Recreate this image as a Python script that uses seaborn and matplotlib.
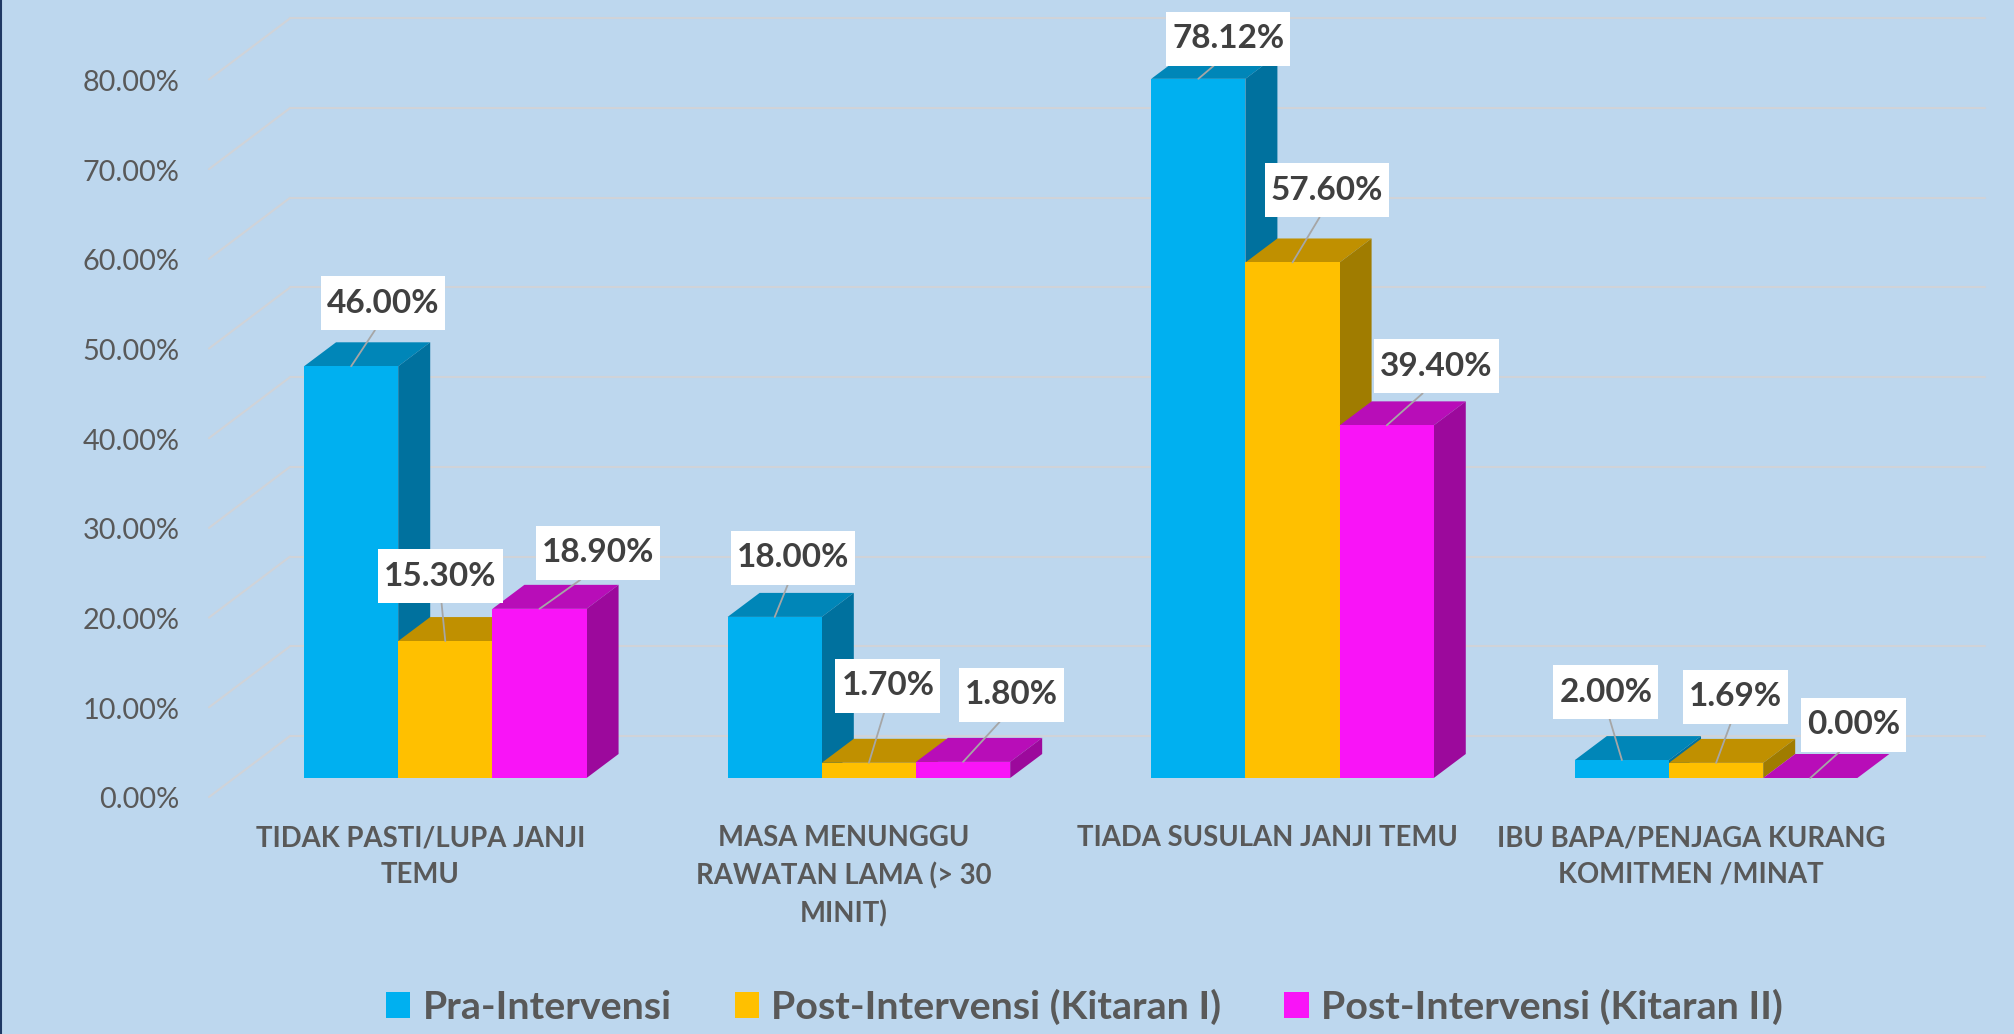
import seaborn as sns
import matplotlib
matplotlib.use('Agg')
import matplotlib.pyplot as plt
import pandas as pd
from matplotlib.lines import Line2D
from matplotlib.patches import Polygon
from matplotlib.path import Path
from matplotlib.transforms import Affine2D

categories = ['TIDAK PASTI/LUPA JANJI\nTEMU',
              'MASA MENUNGGU\nRAWATAN LAMA (> 30\nMINIT)',
              'TIADA SUSULAN JANJI TEMU',
              'IBU BAPA/PENJAGA KURANG\nKOMITMEN /MINAT']
pra = [46.00, 18.00, 78.12, 2.00]
post1 = [15.30, 1.70, 57.60, 1.69]
post2 = [18.90, 1.80, 39.40, 0.00]
series_names = ['Pra-Intervensi', 'Post-Intervensi (Kitaran I)', 'Post-Intervensi (Kitaran II)']
y_ticks = [0, 10, 20, 30, 40, 50, 60, 70, 80]

# where each label box sits, relative to the top of its bar (pixels, one row per series)
label_offsets = [[(32, 63), (18, 59), (30, 40), (-16, 68)],
                 [(-5, 65), (19, 77), (34.5, 72), (19, 66)],
                 [(58.5, 56), (48, 67), (50, 59), (43, 53)]]

BG = '#BDD7EE'
COLORS = ['#00B0F0', '#FFC000', '#F914F7']
TOPS = ['#0086B8', '#C09000', '#B80DB8']
SIDES = ['#00719E', '#A07C00', '#9C099C']
GRID = '#D0D3D8'
W, H = 2015, 1034

sns.set_theme(style='white')
plt.rcParams['font.family'] = ['Lato', 'DejaVu Sans']

fig = plt.figure(figsize=(W / 100, H / 100), dpi=100, facecolor=BG)


def px_axes(left, top, right, bottom):
    return fig.add_axes([left / W, 1 - bottom / H, (right - left) / W, (bottom - top) / H])


# back wall with the gridlines, value labels sit on the front edge of the floor
wall = px_axes(290, 736 - 80 * 8.97, 1985, 736)
wall.set_facecolor('none')
wall.set_xlim(0, 1)
wall.set_ylim(0, 80)
wall.set_xticks([])
wall.set_yticks(y_ticks)
wall.set_yticklabels([f'{v:.2f}%' for v in y_ticks], fontsize=20.8, color='#595959')
wall.tick_params(axis='y', length=0, pad=0)
for label in wall.get_yticklabels():
    label.set_transform(label.get_transform() + Affine2D().translate(179.5 - 290, -62))
wall.grid(axis='y', color=GRID, linewidth=1.5, clip_on=False)
sns.despine(ax=wall, left=True, bottom=True)
for v in y_ticks:
    wall.annotate('', xy=(0, v), xycoords=wall.get_yaxis_transform(), xytext=(-81, -61),
                  textcoords='offset pixels',
                  arrowprops=dict(arrowstyle='-', color=GRID, lw=1.5, shrinkA=0, shrinkB=0))

# bars
df = pd.DataFrame({'kategori': categories * 3,
                   'nilai': pra + post1 + post2,
                   'siri': [s for s in series_names for _ in categories]})
ax = px_axes(233.5, 778 - 80 * 8.95, 1927.9, 778)
ax.set_facecolor('none')
sns.barplot(data=df, x='kategori', y='nilai', hue='siri', order=categories, hue_order=series_names,
            palette=COLORS, saturation=1, width=0.667, gap=0, linewidth=0, ax=ax)
ax.set_xlim(-0.5, 3.5)
ax.set_ylim(0, 80)
ax.set_xlabel('')
ax.set_ylabel('')
ax.set_yticks([])
sns.despine(ax=ax, left=True, bottom=True)
ax.tick_params(axis='x', length=0, pad=34)
for label in ax.get_xticklabels():
    label.set_fontsize(19.8)
    label.set_fontweight('bold')
    label.set_color('#595959')
    label.set_linespacing(1.5)
    label.set_transform(label.get_transform() + Affine2D().translate(-25, 0))

# 3D look: top and side faces are worked out from the seaborn bars
depth_x = 32 / 423.6
depth_y = 24 / 8.95


def fixed_box(x0, y0, width, height, mutation_size):
    box_h = 54
    x1, x2 = x0 - 6, x0 + width + 6
    y1 = y0 + height / 2 - box_h / 2
    y2 = y1 + box_h
    return Path([(x1, y1), (x2, y1), (x2, y2), (x1, y2), (x1, y1)],
                [Path.MOVETO, Path.LINETO, Path.LINETO, Path.LINETO, Path.CLOSEPOLY])


for i, bars in enumerate(ax.containers):
    for j, bar in enumerate(bars):
        x, w, h = bar.get_x(), bar.get_width(), bar.get_height()
        bar.set_zorder(4 + 2 * i)
        bar.set_clip_on(False)
        ax.add_patch(Polygon([(x, h), (x + w, h), (x + w + depth_x, h + depth_y), (x + depth_x, h + depth_y)],
                             facecolor=TOPS[i], edgecolor='none', zorder=3 + 2 * i, clip_on=False))
        if h > 0:
            ax.add_patch(Polygon([(x + w, 0), (x + w + depth_x, depth_y), (x + w + depth_x, h + depth_y), (x + w, h)],
                                 facecolor=SIDES[i], edgecolor='none', zorder=3 + 2 * i, clip_on=False))
        ax.annotate(f'{h:.2f}%', xy=(x + w / 2, h), xytext=label_offsets[i][j], textcoords='offset pixels',
                    ha='center', va='center', fontsize=24, fontweight='bold', color='#404040', zorder=20,
                    annotation_clip=False,
                    bbox=dict(boxstyle=fixed_box, facecolor='white', edgecolor='none'),
                    arrowprops=dict(arrowstyle='-', color='#A6A6A6', lw=1.3, shrinkA=0, shrinkB=0, relpos=(0.5, 0)))

sns.move_legend(ax, loc='center', bbox_to_anchor=(1084.5 / W, 1 - 1007 / H), bbox_transform=fig.transFigure,
                ncol=3, frameon=False, title=None, handlelength=0.61, handleheight=0.61,
                handletextpad=0.31, columnspacing=1.6, borderpad=0, labelcolor='#595959',
                prop=dict(weight='bold', size=28.4))

# dark edge of the slide on the left
fig.add_artist(Line2D([1 / W, 1 / W], [0, 1], color='#1F3864', linewidth=1.5))

fig.savefig('out.png', dpi=100, facecolor=BG)
